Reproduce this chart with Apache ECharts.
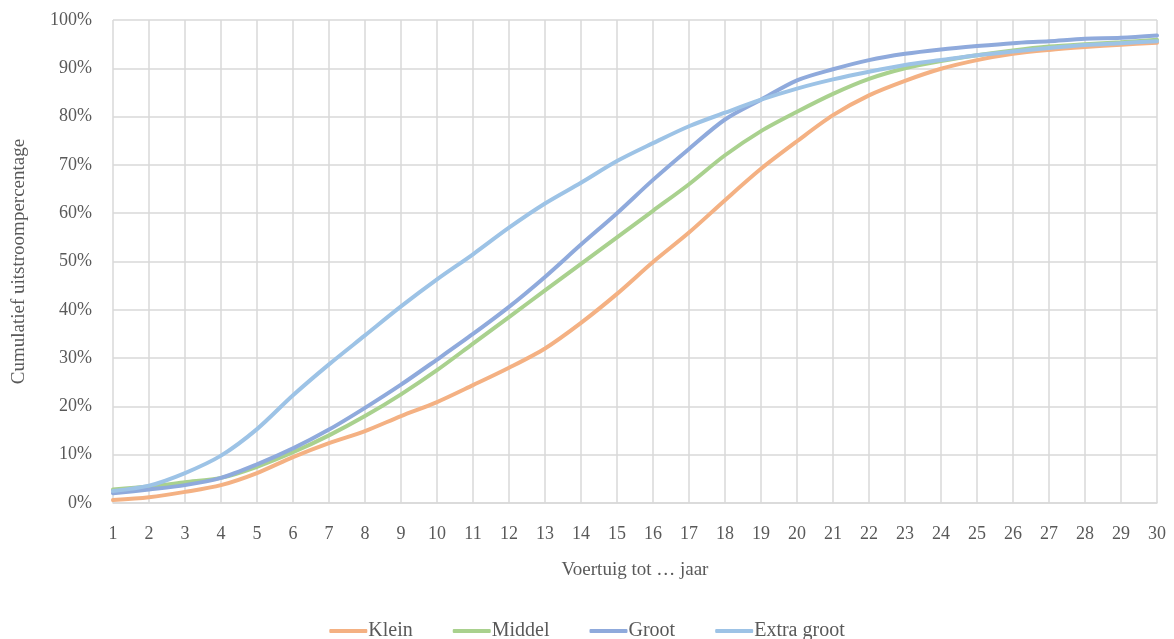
<!DOCTYPE html>
<html>
<head>
<meta charset="utf-8">
<script src="https://cdn.jsdelivr.net/npm/echarts@6/dist/echarts.min.js"></script>
<style>
  html, body { margin: 0; padding: 0; background: #fff; }
  #chart { width: 1174px; height: 639px; }
</style>
</head>
<body>
<div id="chart"></div>
<script>
// jaren 1..30
const jaren = [];
for (let i = 1; i <= 30; i++) jaren.push(String(i));

const klein = [0.6, 1.2, 2.3, 3.7, 6.2, 9.5, 12.4, 14.9, 18.0, 20.9, 24.4, 28.0, 32.0, 37.3, 43.3,
  49.9, 56.0, 62.7, 69.2, 74.9, 80.3, 84.4, 87.4, 89.9, 91.7, 93.0, 93.8, 94.4, 94.9, 95.3];
const middel = [2.8, 3.4, 4.3, 5.2, 7.5, 10.5, 14.0, 18.0, 22.5, 27.5, 33.0, 38.5, 44.0, 49.5, 55.0,
  60.5, 66.0, 72.0, 77.0, 81.0, 84.7, 87.8, 90.0, 91.5, 92.7, 93.7, 94.5, 95.0, 95.4, 95.9];
const groot = [2.0, 2.8, 3.7, 5.2, 8.0, 11.3, 15.2, 19.7, 24.5, 29.7, 35.0, 40.6, 46.8, 53.5, 60.0,
  66.9, 73.3, 79.4, 83.5, 87.5, 89.8, 91.7, 93.0, 93.9, 94.6, 95.2, 95.6, 96.1, 96.3, 96.8];
const extraGroot = [2.5, 3.6, 6.2, 9.8, 15.3, 22.3, 28.7, 34.7, 40.7, 46.3, 51.5, 57.0, 62.0, 66.3, 70.8,
  74.5, 78.0, 80.8, 83.5, 85.8, 87.7, 89.3, 90.7, 91.7, 92.7, 93.5, 94.2, 94.8, 95.2, 95.6];

const lettertype = '"Liberation Serif", "DejaVu Serif", serif';
const tekstKleur = '#595959';

function lijn(naam, data, kleur) {
  return {
    name: naam,
    type: 'line',
    data: data,
    showSymbol: false,
    symbol: 'none',
    smooth: 0.3,
    lineStyle: { color: kleur, width: 4, cap: 'round' },
    itemStyle: { color: kleur }
  };
}

const myChart = echarts.init(document.getElementById('chart'));
myChart.setOption({
  animation: false,
  textStyle: { fontFamily: lettertype, color: tekstKleur },
  grid: { left: 113, right: 17, top: 20, bottom: 136 },
  legend: {
    top: 616,
    left: 'center',
    icon: 'roundRect',
    itemWidth: 38,
    itemHeight: 4,
    itemGap: 40,
    textStyle: { fontFamily: lettertype, fontSize: 20, color: tekstKleur, padding: [0, 0, 0, -4] },
    data: ['Klein', 'Middel', 'Groot', 'Extra groot']
  },
  xAxis: {
    type: 'category',
    data: jaren,
    boundaryGap: false,
    name: 'Voertuig tot … jaar',
    nameLocation: 'middle',
    nameGap: 58,
    nameTextStyle: { fontFamily: lettertype, fontSize: 19, color: tekstKleur },
    axisLine: { lineStyle: { color: '#d9d9d9', width: 1.5 } },
    axisTick: { show: false },
    axisLabel: { fontFamily: lettertype, fontSize: 18, color: tekstKleur, margin: 22, interval: 0 },
    splitLine: { show: true, lineStyle: { color: '#d9d9d9', width: 1.5 } }
  },
  yAxis: {
    type: 'value',
    min: 0,
    max: 100,
    interval: 10,
    name: 'Cumulatief uitstroompercentage',
    nameLocation: 'middle',
    nameGap: 84,
    nameTextStyle: { fontFamily: lettertype, fontSize: 19, color: tekstKleur },
    axisLine: { show: false },
    axisTick: { show: false },
    axisLabel: { formatter: '{value}%', fontFamily: lettertype, fontSize: 18, color: tekstKleur, margin: 21 },
    splitLine: { lineStyle: { color: '#d9d9d9', width: 1.5 } }
  },
  series: [
    lijn('Klein', klein, '#F4B183'),
    lijn('Middel', middel, '#A9D18E'),
    lijn('Groot', groot, '#8FAADC'),
    lijn('Extra groot', extraGroot, '#9DC3E6')
  ]
});
</script>
</body>
</html>
